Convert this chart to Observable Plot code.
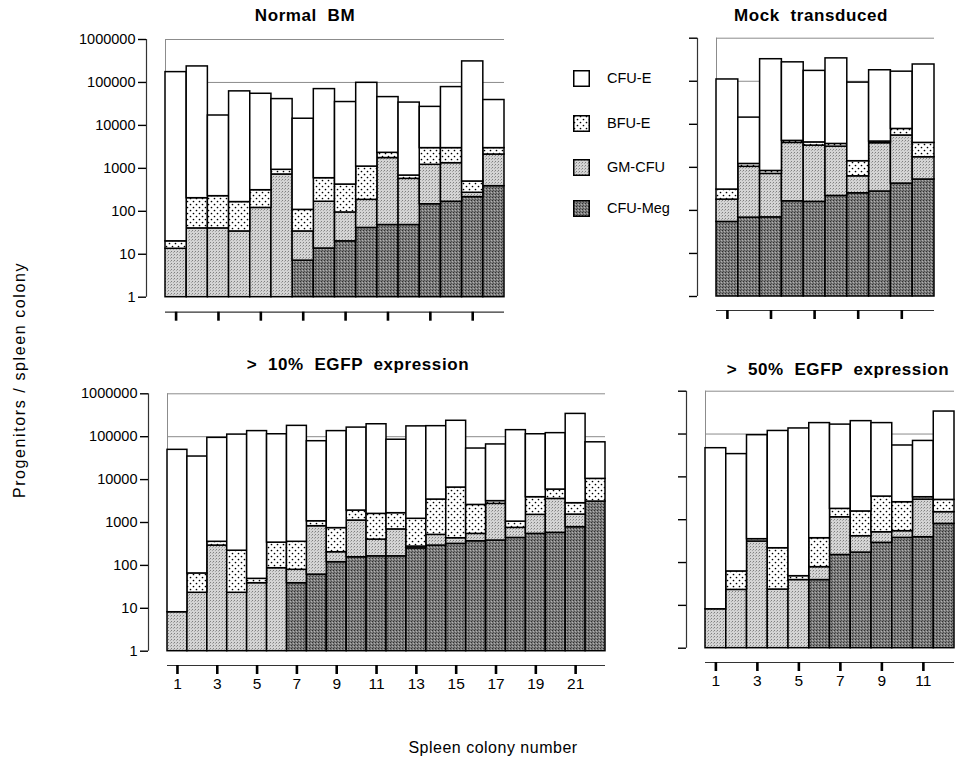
<!DOCTYPE html>
<html><head><meta charset="utf-8">
<script src="https://cdn.jsdelivr.net/npm/d3@7"></script>
<script src="https://cdn.jsdelivr.net/npm/@observablehq/plot@0.6"></script>
<style>
body{margin:0;background:#fff;font-family:"Liberation Sans",Arial,Helvetica,sans-serif;color:#000;}
#root{position:relative;width:963px;height:761px;overflow:hidden;background:#fff;}
.panel{position:absolute;}
.title{position:absolute;font-weight:bold;font-size:17px;white-space:pre;transform:translate(-50%,-50%);letter-spacing:0.6px;}
.axtitle{position:absolute;font-size:16px;white-space:pre;transform:translate(-50%,-50%);letter-spacing:0.5px;}
.ytitle{transform:translate(-50%,-50%) rotate(-90deg);letter-spacing:1.6px;}
.leg{position:absolute;font-size:14.5px;display:flex;align-items:center;}
.leg svg{margin-right:17px;}
</style></head>
<body>
<svg width="0" height="0" style="position:absolute">
<defs>
<pattern id="pDots" width="6" height="6" patternUnits="userSpaceOnUse">
 <rect width="6" height="6" fill="#fff"/>
 <circle cx="1.5" cy="1.5" r="0.85" fill="#000"/>
 <circle cx="4.5" cy="4.5" r="0.85" fill="#000"/>
</pattern>
<pattern id="pGm" width="3" height="3" patternUnits="userSpaceOnUse">
 <rect width="3" height="3" fill="#d4d4d4"/>
 <rect x="0" y="0" width="1" height="1" fill="#808080"/>
 <rect x="2" y="1" width="1" height="1" fill="#a8a8a8"/>
</pattern>
<pattern id="pMeg" width="3" height="3" patternUnits="userSpaceOnUse">
 <rect width="3" height="3" fill="#7c7c7c"/>
 <rect x="0" y="0" width="1" height="1" fill="#303030"/>
 <rect x="2" y="1" width="1" height="1" fill="#b0b0b0"/>
 <rect x="1" y="2" width="1" height="1" fill="#505050"/>
</pattern>
</defs></svg>
<div id="root"></div>
<script>
// ---- Data: top of each cumulative segment (progenitors / spleen colony) ----
const seriesNames = ["CFU-E", "BFU-E", "GM-CFU", "CFU-Meg"];
const yTicks = [1, 10, 100, 1000, 10000, 100000, 1000000];

// Normal BM (16 colonies)
const normalCfuE  = [174000, 236000, 17000, 62000, 54500, 41000, 14300, 70000, 35000, 98000, 45600, 34000, 27000, 78000, 309000, 39000];
const normalBfuE  = [20, 202, 225, 164, 310, 925, 108, 590, 420, 1100, 2300, 680, 2960, 2960, 495, 2960];
const normalGmCfu = [13.4, 40, 40, 34, 120, 720, 34, 167, 94, 185, 1740, 570, 1210, 1320, 270, 2100];
const normalCfuMeg= [null, null, null, null, null, null, 7.1, 13.6, 20, 41, 48, 48, 146, 167, 214, 385];

// Mock transduced (10 colonies)
const mockCfuE  = [110000, 14300, 325000, 275000, 174000, 340000, 93000, 180000, 167000, 245000];
const mockBfuE  = [305, 1200, 825, 4120, 3800, 3500, 1390, 3980, 7800, 3700];
const mockGmCfu = [178, 1030, 705, 3700, 3200, 3030, 620, 3640, 5500, 1720];
const mockCfuMeg= [54, 68, 69, 163, 158, 217, 250, 275, 420, 522];

// > 10% EGFP expression (22 colonies)
const e10CfuE  = [49400, 34500, 94000, 112000, 135000, 114000, 179000, 78500, 135000, 163000, 195000, 85000, 174000, 176000, 235000, 53000, 66000, 142000, 114000, 121000, 340000, 74000];
const e10BfuE  = [8.1, 65, 355, 220, 48.6, 340, 355, 1070, 740, 1900, 1590, 1650, 1220, 3430, 6530, 2570, 3150, 1050, 3890, 5860, 2820, 10400];
const e10GmCfu = [8.1, 23, 290, 23, 38.5, 86, 79, 820, 203, 1110, 400, 690, 275, 515, 430, 543, 2720, 750, 1510, 3550, 1530, 3080];
const e10CfuMeg= [null, null, null, null, null, null, 38.5, 61, 119, 155, 163, 163, 250, 290, 318, 366, 380, 437, 543, 575, 780, 3080];

// > 50% EGFP expression (12 colonies)
const e50CfuE  = [46700, 34000, 94000, 118000, 135000, 180000, 166000, 200000, 180000, 54000, 69000, 335000];
const e50BfuE  = [8.1, 62, 351, 216, 48, 370, 1790, 1560, 3470, 2560, 3350, 2900];
const e50GmCfu = [8.1, 23, 310, 23.4, 39, 78, 1140, 412, 510, 540, 2950, 1500];
const e50CfuMeg= [null, null, null, null, null, 39, 150, 171, 288, 377, 390, 800];

const fills = {"CFU-E": "#ffffff", "BFU-E": "url(#pDots)", "GM-CFU": "url(#pGm)", "CFU-Meg": "url(#pMeg)"};

function makePanel(o) {
  const n = o.cfuE.length;
  const rows = [];
  for (let i = 0; i < n; i++) {
    const c = i + 1;
    const m = o.meg[i] ?? 1;
    const g = o.gm[i] ?? m;
    const b = o.bfu[i] ?? g;
    const e = o.cfuE[i];
    rows.push({c, type: "CFU-Meg", y1: 1, y2: m});
    rows.push({c, type: "GM-CFU", y1: m, y2: g});
    rows.push({c, type: "BFU-E", y1: g, y2: b});
    rows.push({c, type: "CFU-E", y1: b, y2: e});
  }
  const gap = 19;
  const rangeW = o.width - o.ml - o.mr;
  const w = (rangeW - gap) / n;
  const xmin = 0.5 - gap / w;
  const odd = d3.range(1, n + 1, 2);
  const marks = [
    Plot.ruleY([100000, 1000000], {x1: 0.5, x2: n + 0.5, stroke: "#8c8c8c", strokeWidth: 1}),
    Plot.ruleX([0.5], {y1: 1, y2: 1000000, stroke: "#8c8c8c", strokeWidth: 1})
  ];
  for (const t of ["CFU-Meg", "GM-CFU", "BFU-E", "CFU-E"]) {
    marks.push(Plot.rectY(rows.filter(r => r.type === t && r.y2 > r.y1), {
      x1: d => d.c - 0.5, x2: d => d.c + 0.5, y1: "y1", y2: "y2",
      fill: fills[t], stroke: "#000", strokeWidth: 1.5
    }));
  }
  marks.push(
    Plot.ruleX([xmin], {y1: 1, y2: 1000000, stroke: "#333", strokeWidth: 1.2}),
    Plot.axisY({ticks: yTicks, tickSize: 8, tickPadding: 3, strokeWidth: 1.4,
      tickFormat: o.yLabels ? (d => String(d)) : (() => ""), fontSize: 14.5}),
    Plot.ruleY([1], {x1: 0.5, x2: n + 0.5, dy: o.xdy, stroke: "#333", strokeWidth: 1.2}),
    Plot.axisX(odd, {tickSize: 9, dy: o.xdy, strokeWidth: 2.6, tickPadding: 3,
      tickFormat: o.xLabels ? (d => String(d)) : (() => ""), fontSize: 15.5})
  );
  const chart = Plot.plot({
    width: o.width, height: o.height,
    marginLeft: o.ml, marginRight: o.mr, marginTop: o.mt, marginBottom: o.mb,
    x: {type: "linear", domain: [xmin, n + 0.5], label: null},
    y: {type: "log", domain: [1, 1000000], label: null},
    style: {fontFamily: "'Liberation Sans', Arial, sans-serif", fontSize: "14.5px", color: "#000", background: "transparent", overflow: "visible"},
    marks
  });
  const div = document.createElement("div");
  div.className = "panel";
  div.style.left = o.left + "px";
  div.style.top = o.top + "px";
  div.appendChild(chart);
  document.getElementById("root").appendChild(div);
}

makePanel({cfuE: normalCfuE, bfu: normalBfuE, gm: normalGmCfu, meg: normalCfuMeg,
  left: 0, top: 20, width: 520, height: 320, ml: 146, mr: 16, mt: 19, mb: 43.3, xdy: 15, yLabels: true, xLabels: false});
makePanel({cfuE: mockCfuE, bfu: mockBfuE, gm: mockGmCfu, meg: mockCfuMeg,
  left: 560, top: 20, width: 403, height: 320, ml: 137, mr: 29, mt: 17.7, mb: 44, xdy: 14, yLabels: false, xLabels: false});
makePanel({cfuE: e10CfuE, bfu: e10BfuE, gm: e10GmCfu, meg: e10CfuMeg,
  left: 0, top: 375, width: 620, height: 330, ml: 148, mr: 15, mt: 18.3, mb: 54.3, xdy: 14.3, yLabels: true, xLabels: true});
makePanel({cfuE: e50CfuE, bfu: e50BfuE, gm: e50GmCfu, meg: e50CfuMeg,
  left: 630, top: 375, width: 333, height: 330, ml: 56, mr: 9, mt: 15.7, mb: 57.3, xdy: 14.3, yLabels: false, xLabels: true});

// Titles and labels
const root = document.getElementById("root");
function addText(cls, text, x, y) {
  const d = document.createElement("div");
  d.className = cls; d.textContent = text;
  d.style.left = x + "px"; d.style.top = y + "px";
  root.appendChild(d);
}
addText("title", "Normal  BM", 305, 16);
addText("title", "Mock  transduced", 811, 16);
addText("title", ">  10%  EGFP  expression", 358, 365);
addText("title", ">  50%  EGFP  expression", 838, 370);
addText("axtitle", "Spleen colony number", 493, 748);
addText("axtitle ytitle", "Progenitors / spleen colony", 20, 380);

// Legend
const legendY = [78, 123, 167, 208];
seriesNames.forEach((s, i) => {
  const d = document.createElement("div");
  d.className = "leg";
  d.style.left = "573px";
  d.style.top = (legendY[i] - 10) + "px";
  d.style.height = "20px";
  d.innerHTML = `<svg width="17" height="17"><rect x="0.75" y="0.75" width="15.5" height="15.5" fill="${fills[s]}" stroke="#000" stroke-width="1.5"/></svg><span>${s}</span>`;
  root.appendChild(d);
});
</script>
</body></html>
